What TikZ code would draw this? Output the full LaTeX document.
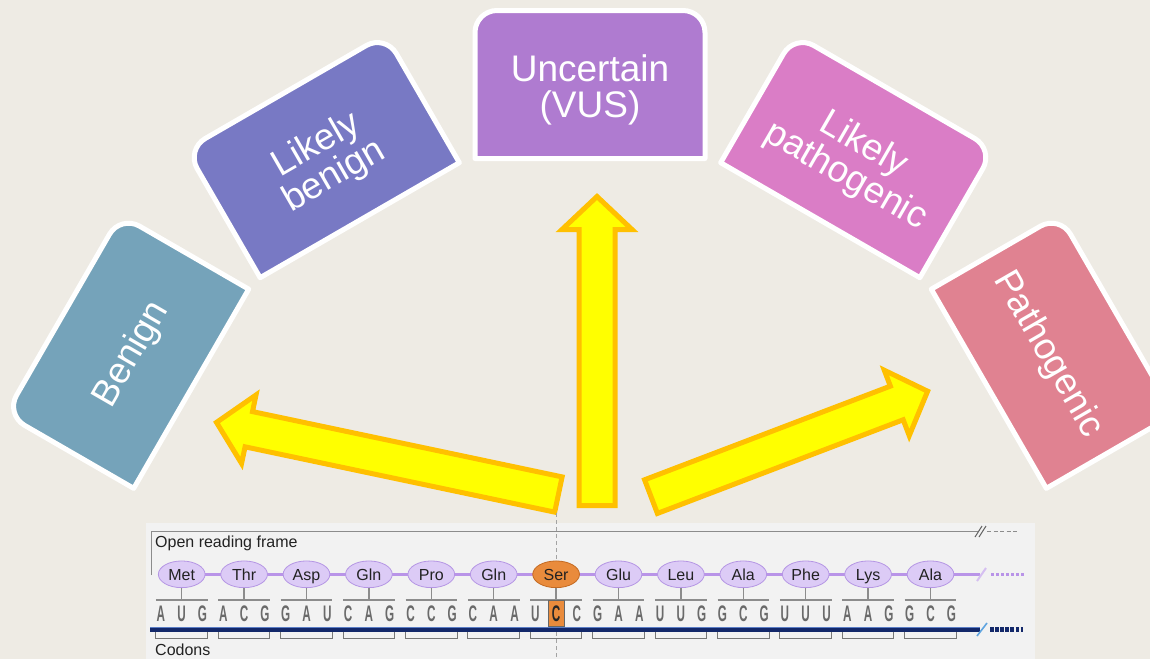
\documentclass[tikz,border=0pt]{standalone}
\usepackage{fontspec}
\setmainfont{Liberation Sans}
\usepackage{graphicx}
\usetikzlibrary{calc,shapes.geometric}

\definecolor{pagebg}{HTML}{EEEBE4}
\definecolor{cBenign}{HTML}{75A3BA}
\definecolor{cLBenign}{HTML}{7879C4}
\definecolor{cVUS}{HTML}{AF7BD0}
\definecolor{cLPath}{HTML}{DA7DC6}
\definecolor{cPath}{HTML}{E08291}
\definecolor{arrowfill}{HTML}{FFFF00}
\definecolor{arrowedge}{HTML}{FFC000}
\definecolor{panelbg}{HTML}{F2F2F2}
\definecolor{aafill}{HTML}{DCCBF6}
\definecolor{aaedge}{HTML}{B596E4}
\definecolor{aaline}{HTML}{B994E8}
\definecolor{serfill}{HTML}{E98B3C}
\definecolor{seredge}{HTML}{C46A22}
\definecolor{ntgray}{HTML}{6A6A6A}
\definecolor{rulegray}{HTML}{8C8C8C}
\definecolor{strand}{HTML}{13286A}
\definecolor{strandhi}{HTML}{5A7DC6}
\definecolor{breakblue}{HTML}{5FA4E0}
\definecolor{labeltext}{HTML}{222222}

% one classification card: rotation about the common centre, name, colour, label
\newcommand\varclass[4]{%
  \begin{scope}[shift={(590,-619)}, rotate=#1]
    \draw[boxedge, fill=#3] (-115,460.5) -- (-115,586.5)
      arc[start angle=180, end angle=90, radius=22] -- (93,608.5)
      arc[start angle=90, end angle=0, radius=22] -- (115,460.5) -- cycle;
    \node[boxtext, transform shape] (#2) at (0,529) {#4};
  \end{scope}}

% yellow block arrow from a tail coordinate to a tip coordinate
\newcommand\fatarrow[2]{%
  \coordinate (#1-h) at ($(#2)!33pt!(#1)$);
  \draw[blockarrow]
    ($(#1)!18pt!90:(#2)$) -- ($(#1-h)!18pt!90:(#2)$) -- ($(#1-h)!35pt!90:(#2)$)
    -- (#2) -- ($(#1-h)!35pt!-90:(#2)$) -- ($(#1-h)!18pt!-90:(#2)$)
    -- ($(#1)!18pt!-90:(#2)$) -- cycle;}

\begin{document}
\begin{tikzpicture}[x=1pt, y=1pt,
  boxedge/.style={draw=white, line width=5pt, line join=round},
  boxtext/.style={text=white, align=center, inner sep=0pt,
    font=\fontsize{37}{36}\selectfont},
  blockarrow/.style={fill=arrowfill, draw=arrowedge, line width=5pt, line join=miter},
  aa/.style={ellipse, draw=aaedge, fill=aafill, line width=0.8pt,
    minimum width=46.7pt, minimum height=26.7pt, inner sep=0pt,
    text height=11.6pt, text depth=0pt, text=labeltext,
    font=\fontsize{16}{18}\selectfont},
  aaser/.style={aa, draw=seredge, fill=serfill},
  nt/.style={anchor=base, inner sep=0pt, font=\fontsize{22.5}{24}\selectfont\bfseries},
  tick/.style={draw=rulegray, line width=1.4pt},
  bracket/.style={draw=rulegray!85!black, line width=0.9pt},
  caption/.style={anchor=base west, inner sep=0pt, text=labeltext,
    font=\fontsize{16}{18}\selectfont}]

\fill[pagebg] (0,0) rectangle (1150,-659);
\useasboundingbox (0,0) rectangle (1150,-659);

% classification cards on an arc
\varclass{60}{benign}{cBenign}{Benign}
\varclass{30}{lbenign}{cLBenign}{Likely\\benign}
\varclass{0}{vus}{cVUS}{Uncertain\\(VUS)}
\varclass{-30}{lpath}{cLPath}{Likely\\pathogenic}
\varclass{-60}{path}{cPath}{Pathogenic}

% block arrows
\coordinate (upT) at (597,-505.5);   \coordinate (upP) at (597,-196.5);
\coordinate (lfT) at (558.4,-494.5); \coordinate (lfP) at (216.5,-422.4);
\coordinate (rtT) at (651,-496.6);   \coordinate (rtP) at (927.6,-391.2);
\fatarrow{lfT}{lfP}
\fatarrow{upT}{upP}
\fatarrow{rtT}{rtP}

% reading-frame panel
\fill[panelbg] (146,-523.3) rectangle (1035,-659);
\draw[rulegray!80, line width=0.8pt, dash pattern=on 4pt off 3pt] (556,-513) -- (556,-659);

% open reading frame bracket
\draw[rulegray, line width=1.2pt] (151.7,-575) -- (151.7,-531.7) -- (978,-531.7);
\draw[rulegray!70!black, line width=1pt] (975,-537) -- (982,-526) (979,-537) -- (986,-526);
\draw[rulegray, line width=1.2pt, dash pattern=on 4pt off 2.5pt] (987,-531.7) -- (1017,-531.7);
\node[caption] (orf) at (155,-547) {Open reading frame};

% peptide backbone
\draw[aaline, line width=3pt] (181.7,-574.3) -- (980,-574.3);
\draw[aaline!60, line width=2pt] (977,-581) -- (986,-568);
\draw[aaline, line width=3.5pt, dash pattern=on 3pt off 2pt] (991,-574.3) -- (1024,-574.3);

% amino acids with codon rulers
\foreach \res/\sty [count=\k from 0] in {Met/aa,Thr/aa,Asp/aa,Gln/aa,Pro/aa,Gln/aa,Ser/aaser,
    Glu/aa,Leu/aa,Ala/aa,Phe/aa,Lys/aa,Ala/aa} {
  \pgfmathsetmacro\cx{181.7+62.4*\k}
  \node[\sty] (aa\k) at (\cx,-574.3) {\res};
  \draw[tick] (aa\k.south) -- (\cx,-600);
  \draw[tick] (\cx-25.8,-600) -- (\cx+25.8,-600);
  \draw[bracket] (\cx-25.8,-632) -- (\cx-25.8,-638.5) -- (\cx+25.8,-638.5) -- (\cx+25.8,-632);
}

% highlighted substituted base
\draw[fill=serfill, draw=black!60, line width=0.8pt] (548.2,-600.5) rectangle (564.6,-626);

% mRNA bases
\foreach \b [count=\i from 0] in {A,U,G,A,C,G,G,A,U,C,A,G,C,C,G,C,A,A,U,C,C,
    G,A,A,U,U,G,G,C,G,U,U,U,A,A,G,G,C,G} {
  \pgfmathsetmacro\bx{160.9+20.8*\i}
  \ifnum\i=19 \def\ntcol{black!85}\else\def\ntcol{ntgray}\fi
  \node[nt, text=\ntcol] (nt\i) at (\bx,-621.7) {\scalebox{0.52}[1]{\b}};
}

% mRNA strand
\draw[strand, line width=4.6pt] (150,-629.5) -- (980,-629.5);
\draw[strandhi, line width=1.2pt] (150,-627.6) -- (980,-627.6);
\draw[breakblue, line width=1.6pt] (977,-636) -- (987,-623);
\draw[strand, line width=4.6pt, dash pattern=on 3.5pt off 1.6pt] (990,-629.5) -- (1023,-629.5);

\node[caption] (codons) at (155,-655) {Codons};
\end{tikzpicture}
\end{document}
